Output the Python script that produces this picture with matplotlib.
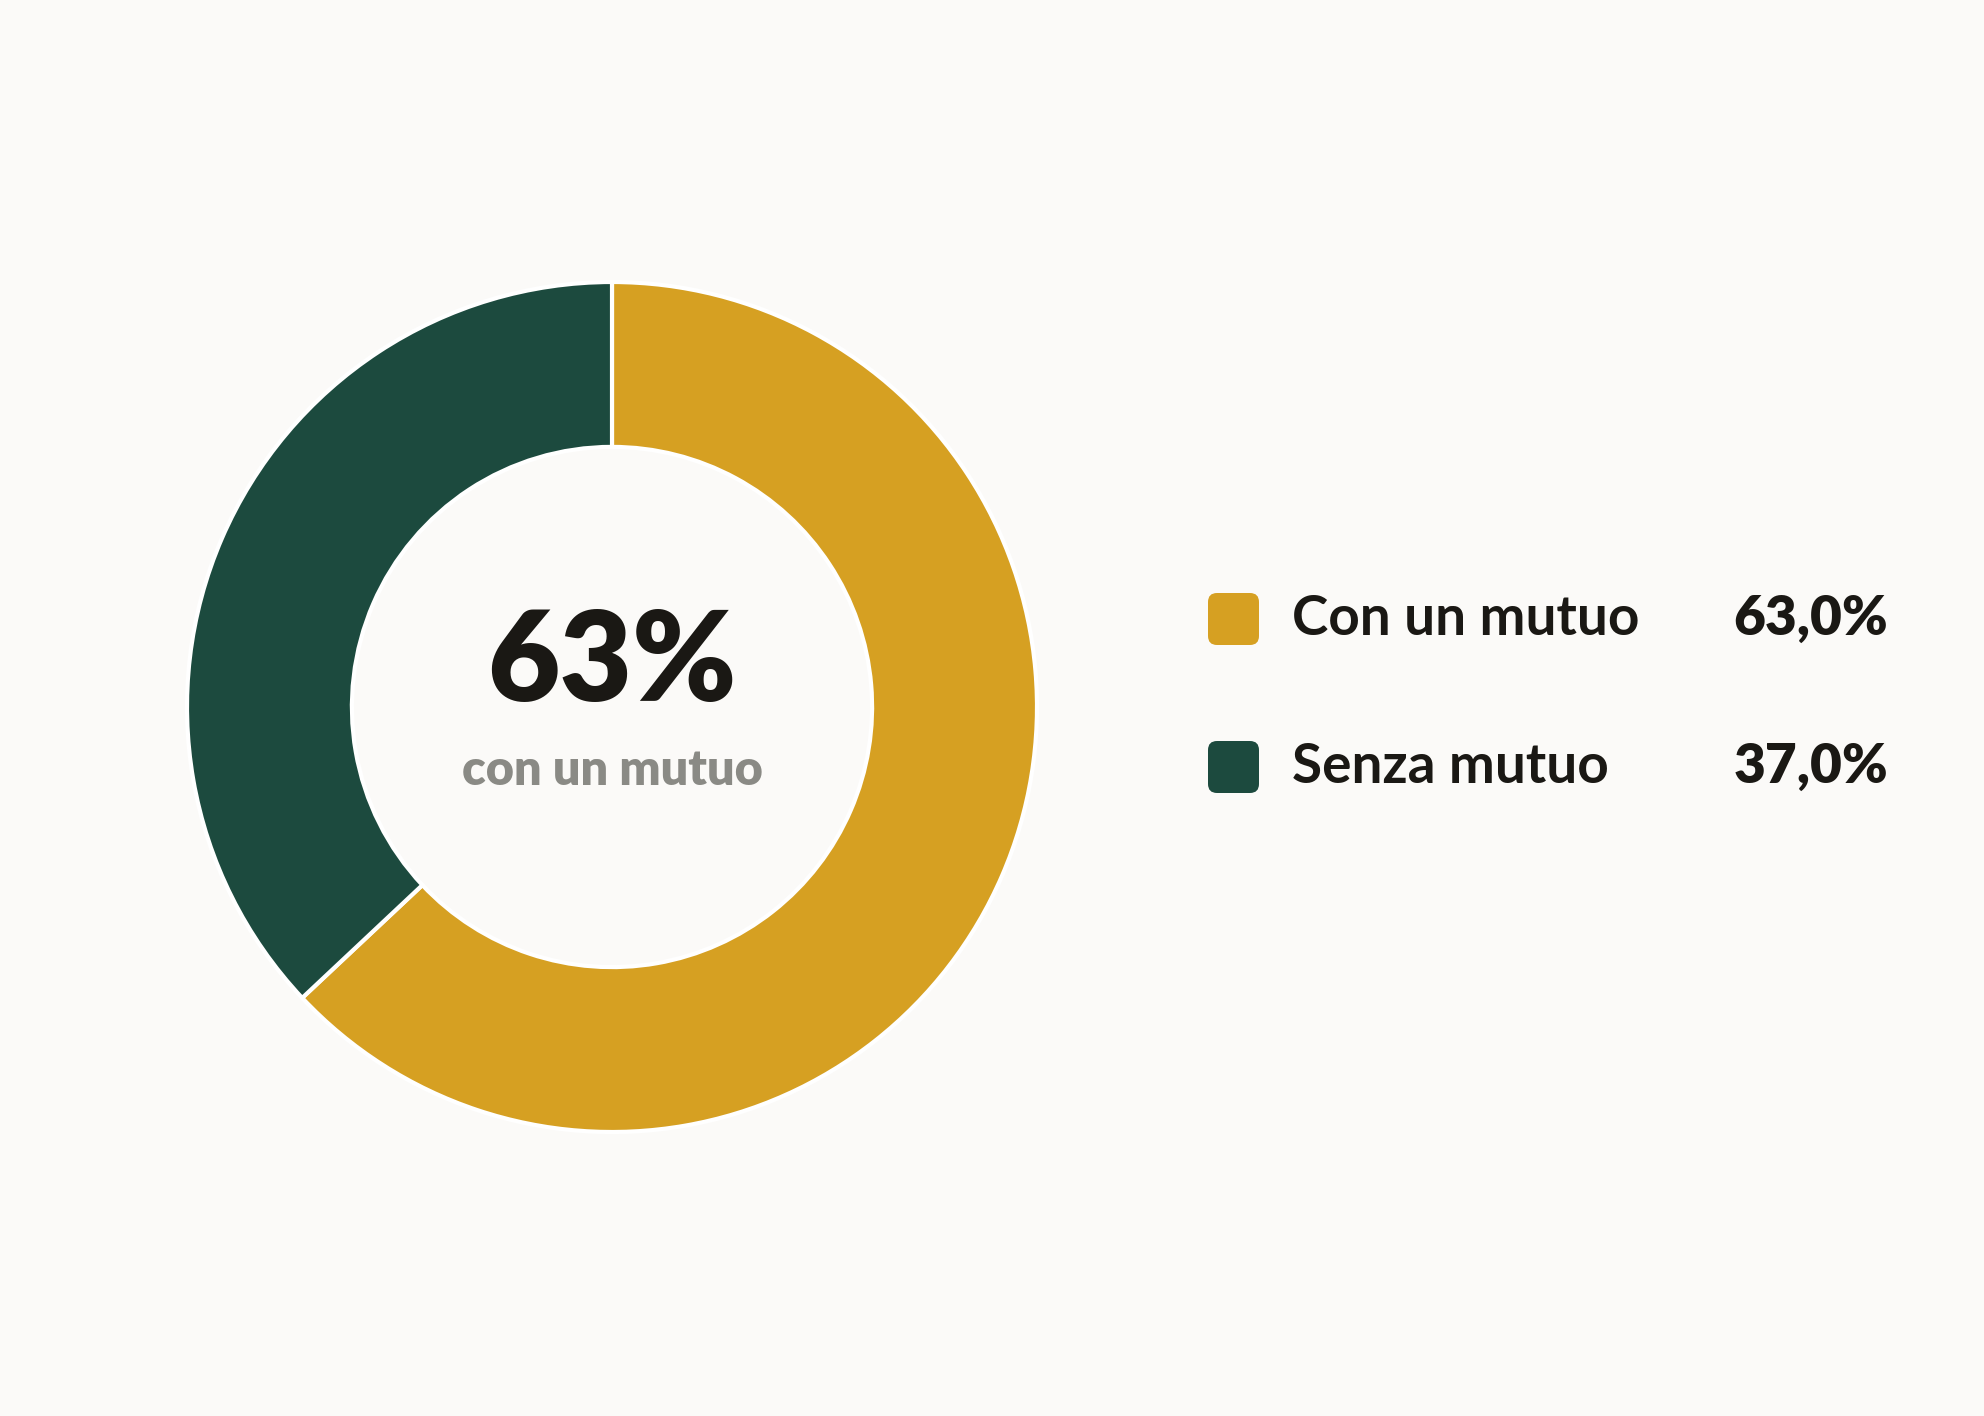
import matplotlib.pyplot as plt
from matplotlib.patches import FancyBboxPatch

labels = ["Con un mutuo", "Senza mutuo"]
values = [63.0, 37.0]
value_labels = ["63,0%", "37,0%"]
colors = ["#D6A022", "#1C4A3E"]
center_big = "63%"
center_small = "con un mutuo"

W, H = 1984, 1416
bg = "#FBFAF8"

fig = plt.figure(figsize=(W / 100, H / 100), dpi=100, facecolor=bg)
ax = fig.add_axes([0, 0, 1, 1])

cx, cy, r = 612, H - 707, 425
ax.pie(values, colors=colors, startangle=90, counterclock=False,
       center=(cx, cy), radius=r, frame=True,
       wedgeprops=dict(width=r * 0.388, edgecolor="white", linewidth=3))
ax.set_xlim(0, W)
ax.set_ylim(0, H)
ax.set_aspect("equal")
ax.axis("off")

# centre label
ax.text(cx, H - 701, center_big, ha="center", va="baseline",
        fontsize=90, fontweight="heavy", family="Lato", color="#1A1814")
ax.text(cx, H - 785, center_small, ha="center", va="baseline",
        fontsize=35, fontweight="heavy", family="Lato", color="#8A8A85")

# legend
rows_y = [619, 767]
for i, lab in enumerate(labels):
    y = H - rows_y[i]
    sq = FancyBboxPatch((1208 + 9, y - 26 + 9), 51 - 18, 52 - 18,
                        boxstyle="round,pad=9", facecolor=colors[i],
                        edgecolor="none")
    ax.add_patch(sq)
    ax.text(1292, y - 16, lab, ha="left", va="baseline", fontsize=39.5,
            fontweight="bold", family="Lato", color="#1A1814")
    ax.text(1888, y - 16, value_labels[i], ha="right", va="baseline",
            fontsize=39.5, fontweight="heavy", family="Lato", color="#1A1814")

fig.savefig("out.png", dpi=100, facecolor=bg)
